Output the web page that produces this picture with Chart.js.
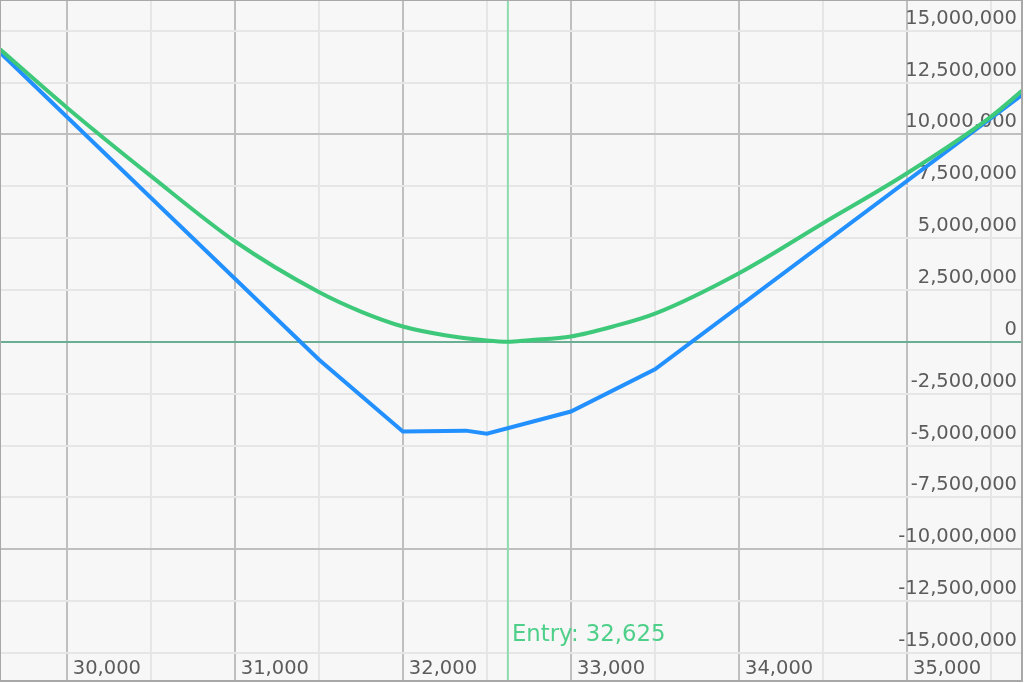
<!DOCTYPE html>
<html>
<head>
<meta charset="utf-8">
<script src="https://cdn.jsdelivr.net/npm/chart.js@4/dist/chart.umd.min.js"></script>
<style>
  html, body { margin: 0; padding: 0; background: #ffffff; }
  #wrap { width: 1024px; height: 683px; }
</style>
</head>
<body>
<div id="wrap"><canvas id="payoff"></canvas></div>
<script>
// Underlying price range shown
const xMin = 29603;
const xMax = 35684;
const yMin = -16350000;
const yMax = 16480000;
const entryPrice = 32625;

// Grid / tick positions
const xTickValues = [30000, 30500, 31000, 31500, 32000, 32500, 33000, 33500, 34000, 34500, 35000, 35500];
const yTickValues = [-15000000, -12500000, -10000000, -7500000, -5000000, -2500000, 0,
    2500000, 5000000, 7500000, 10000000, 12500000, 15000000];

// Payoff at expiry (blue)
const expiryPrices = [29603, 31500, 32000, 32375, 32500, 33000, 33500, 35684];
const expiryPnl = [13950000, -850000, -4320000, -4280000, -4430000, -3360000, -1320000, 11900000];

// Current value (green)
const nowPrices = [29603, 30000, 30500, 31000, 31500, 31750, 32000, 32250, 32500, 32625, 32750, 33000, 33250, 33500, 34000, 34500, 35000, 35500, 35684];
const nowPnl = [14100000, 11300000, 8000000, 4850000, 2400000, 1460000, 740000, 320000, 60000, 0, 80000, 260000, 740000, 1360000, 3310000, 5720000, 8130000, 10860000, 12100000];

const FONT = "'DejaVu Sans', Verdana, sans-serif";
const fmt = v => Math.round(v).toLocaleString('en-US');

const frame = {
    id: 'frame',
    beforeDraw(chart) {
        const {ctx, chartArea: a} = chart;
        ctx.save();
        ctx.fillStyle = '#f7f7f7';
        ctx.fillRect(a.left, a.top, a.right - a.left, a.bottom - a.top);
        ctx.restore();
    },
    beforeDatasetsDraw(chart) {
        const {ctx, chartArea: a, scales} = chart;
        const x = scales.x.getPixelForValue(entryPrice);
        ctx.save();
        ctx.strokeStyle = '#8fdcb0';
        ctx.lineWidth = 2;
        ctx.beginPath();
        ctx.moveTo(x, a.top);
        ctx.lineTo(x, a.bottom);
        ctx.stroke();
        ctx.fillStyle = '#4fd08a';
        ctx.font = '22.8px ' + FONT;
        ctx.textAlign = 'left';
        ctx.textBaseline = 'middle';
        ctx.fillText('Entry: ' + fmt(entryPrice), x + 4, a.bottom - 46);
        ctx.restore();
    },
    afterDraw(chart) {
        const {ctx, chartArea: a} = chart;
        ctx.save();
        ctx.strokeStyle = '#a8a8a8';
        ctx.lineWidth = 2;
        ctx.strokeRect(a.left, a.top, a.right - a.left, a.bottom - a.top);
        ctx.restore();
    }
};

document.addEventListener("DOMContentLoaded", function () {
    const ctx = document.getElementById('payoff').getContext('2d');

    new Chart(ctx, {
        type: 'line',
        data: {
            datasets: [
                {
                    label: 'Now',
                    data: nowPrices.map((p, i) => ({x: p, y: nowPnl[i]})),
                    borderColor: '#3ec97a',
                    borderWidth: 4,
                    pointRadius: 0,
                    cubicInterpolationMode: 'monotone'
                },
                {
                    label: 'Expiry',
                    data: expiryPrices.map((p, i) => ({x: p, y: expiryPnl[i]})),
                    borderColor: '#2390ff',
                    borderWidth: 4,
                    pointRadius: 0,
                    tension: 0
                }
            ]
        },
        options: {
            responsive: true,
            maintainAspectRatio: false,
            animation: false,
            layout: { padding: { left: 0, top: 0, right: 2, bottom: 2 } },
            scales: {
                x: {
                    type: 'linear',
                    position: 'bottom',
                    min: xMin,
                    max: xMax,
                    afterBuildTicks: s => { s.ticks = xTickValues.map(v => ({value: v})); },
                    afterFit: s => {
                        s.height = 0;
                        s.paddingLeft = 0;
                        s.paddingRight = 0;
                    },
                    border: { display: false },
                    grid: {
                        drawTicks: false,
                        color: c => c.tick && c.tick.value % 1000 === 0 ? '#bfbfbf' : '#e6e6e6',
                        lineWidth: 2
                    },
                    ticks: {
                        autoSkip: false,
                        maxRotation: 0,
                        mirror: true,
                        align: 'start',
                        labelOffset: 6,
                        padding: 0,
                        color: '#5c5c5c',
                        font: { family: FONT, size: 19.5 },
                        callback: v => v % 1000 === 0 ? fmt(v) : ''
                    }
                },
                y: {
                    position: 'right',
                    min: yMin,
                    max: yMax,
                    afterBuildTicks: s => { s.ticks = yTickValues.map(v => ({value: v})); },
                    afterFit: s => {
                        s.width = 0;
                        s.paddingTop = 0;
                        s.paddingBottom = 0;
                    },
                    border: { display: false },
                    grid: {
                        drawTicks: false,
                        color: c => {
                            if (!c.tick) return '#e6e6e6';
                            if (c.tick.value === 0) return '#6aaf94';
                            return c.tick.value % 10000000 === 0 ? '#bfbfbf' : '#e6e6e6';
                        },
                        lineWidth: 2
                    },
                    ticks: {
                        autoSkip: false,
                        mirror: true,
                        labelOffset: -12,
                        padding: -5,
                        color: '#5c5c5c',
                        font: { family: FONT, size: 19.5 },
                        callback: v => fmt(v)
                    }
                }
            },
            plugins: {
                legend: { display: false },
                tooltip: { enabled: false }
            }
        },
        plugins: [frame]
    });
});
</script>
</body>
</html>
